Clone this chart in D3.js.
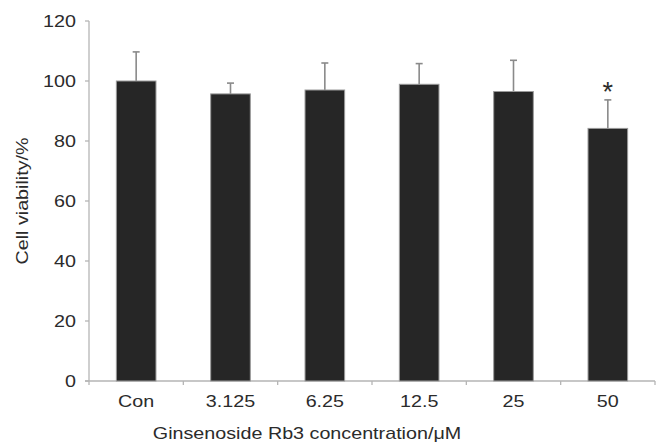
<!DOCTYPE html>
<html lang="en">
<head>
    <meta charset="UTF-8">
    <title>Cell viability</title>
    <script src="https://d3js.org/d3.v7.min.js"></script>
    <style>
        body { margin: 0; background: #fff; }
        text { font-family: "Liberation Sans", Arial, sans-serif; fill: #2b2b2b; }
    </style>
</head>
<body>
    <script>
        // data
        var categories = ["Con", "3.125", "6.25", "12.5", "25", "50"];
        var viability = [100, 95.7, 97, 98.9, 96.5, 84.2];
        var sdUpper = [9.7, 3.6, 9, 6.9, 10.4, 9.5];
        var significant = [false, false, false, false, false, true];
        var yTicks = [0, 20, 40, 60, 80, 100, 120];

        var width = 659, height = 444;
        var plotLeft = 89, plotRight = 655, plotTop = 21, plotBottom = 381;
        var stretch = 1.16; // text in the source looks horizontally widened

        var svg = d3.select("body").append("svg")
            .attr("width", width)
            .attr("height", height);

        var x = d3.scaleBand().domain(categories).range([plotLeft, plotRight]).padding(0);
        var y = d3.scaleLinear().domain([0, 120]).range([plotBottom, plotTop]);

        var barW = x.bandwidth() * 0.42;
        var axisColor = "#b5b5b5";

        // y axis
        svg.append("line")
            .attr("x1", plotLeft).attr("x2", plotLeft)
            .attr("y1", y(120)).attr("y2", y(0))
            .attr("stroke", axisColor).attr("stroke-width", 1.3);

        var yt = svg.append("g").selectAll("g")
            .data(yTicks)
            .enter().append("g");
        yt.append("line")
            .attr("x1", plotLeft - 4).attr("x2", plotLeft)
            .attr("y1", function(d) { return y(d); })
            .attr("y2", function(d) { return y(d); })
            .attr("stroke", axisColor).attr("stroke-width", 1.3);
        yt.append("text")
            .attr("transform", function(d) { return "translate(" + (plotLeft - 13) + "," + (y(d) + 6) + ") scale(" + stretch + ",1)"; })
            .attr("text-anchor", "end")
            .attr("font-size", 17)
            .text(function(d) { return d; });

        // x axis
        svg.append("line")
            .attr("x1", plotLeft - 4).attr("x2", plotRight)
            .attr("y1", y(0)).attr("y2", y(0))
            .attr("stroke", axisColor).attr("stroke-width", 1.3);

        var edges = categories.map(function(c) { return x(c); }).concat([plotRight]);
        svg.append("g").selectAll("line")
            .data(edges)
            .enter().append("line")
            .attr("x1", function(d) { return d; })
            .attr("x2", function(d) { return d; })
            .attr("y1", y(0)).attr("y2", y(0) + 4)
            .attr("stroke", axisColor).attr("stroke-width", 1.3);

        svg.append("g").selectAll("text")
            .data(categories)
            .enter().append("text")
            .attr("transform", function(d) { return "translate(" + (x(d) + x.bandwidth() / 2) + ",407) scale(" + stretch + ",1)"; })
            .attr("text-anchor", "middle")
            .attr("font-size", 17)
            .text(function(d) { return d; });

        // error bars (upper only)
        var eb = svg.append("g").selectAll("g")
            .data(categories)
            .enter().append("g");
        eb.append("line")
            .attr("x1", function(d) { return x(d) + x.bandwidth() / 2; })
            .attr("x2", function(d) { return x(d) + x.bandwidth() / 2; })
            .attr("y1", function(d, i) { return y(viability[i]); })
            .attr("y2", function(d, i) { return y(viability[i] + sdUpper[i]); })
            .attr("stroke", "#8a8a8a").attr("stroke-width", 1.6);
        eb.append("line")
            .attr("x1", function(d) { return x(d) + x.bandwidth() / 2 - 3.5; })
            .attr("x2", function(d) { return x(d) + x.bandwidth() / 2 + 3.5; })
            .attr("y1", function(d, i) { return y(viability[i] + sdUpper[i]); })
            .attr("y2", function(d, i) { return y(viability[i] + sdUpper[i]); })
            .attr("stroke", "#8a8a8a").attr("stroke-width", 1.6);

        // bars
        svg.append("g").selectAll("rect")
            .data(categories)
            .enter().append("rect")
            .attr("x", function(d) { return x(d) + (x.bandwidth() - barW) / 2; })
            .attr("y", function(d, i) { return y(viability[i]); })
            .attr("width", barW)
            .attr("height", function(d, i) { return y(0) - y(viability[i]); })
            .attr("fill", "#262626")
            .attr("stroke", "#9a9a9a")
            .attr("stroke-width", 1);

        // significance marks
        svg.append("g").selectAll("text")
            .data(categories.filter(function(d, i) { return significant[i]; }))
            .enter().append("text")
            .attr("x", function(d) { return x(d) + x.bandwidth() / 2; })
            .attr("y", function(d) {
                var i = categories.indexOf(d);
                return y(viability[i] + sdUpper[i]) + 1;
            })
            .attr("text-anchor", "middle")
            .attr("font-size", 27)
            .text("*");

        // axis titles
        svg.append("text")
            .attr("transform", "translate(28,201) rotate(-90) scale(" + stretch + ",1)")
            .attr("text-anchor", "middle")
            .attr("font-size", 17)
            .text("Cell viability/%");

        svg.append("text")
            .attr("transform", "translate(307,439) scale(" + stretch + ",1)")
            .attr("text-anchor", "middle")
            .attr("font-size", 17)
            .text("Ginsenoside Rb3 concentration/\u03bcM");
    </script>
</body>
</html>
